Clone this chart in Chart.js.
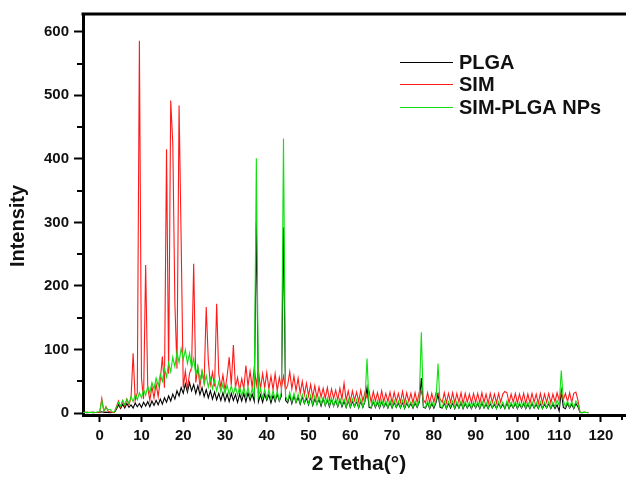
<!DOCTYPE html>
<html>
<head>
<meta charset="utf-8">
<script src="https://cdn.jsdelivr.net/npm/chart.js@4.4.1/dist/chart.umd.min.js"></script>
<style>
  html, body { margin: 0; padding: 0; background: #fff; }
  #wrap { width: 626px; height: 479px; position: relative; }
</style>
</head>
<body>
<div id="wrap"><canvas id="xrd"></canvas></div>
<script>
// 2 theta angles (degrees), one value every 0.5
const angles = [
  -4, -3.5, -3, -2.5, -2, -1.5, -1, -0.5,
  0, 0.5, 1, 1.5, 2, 2.5, 3, 3.5, 4, 4.5,
  5, 5.5, 6, 6.5, 7, 7.5, 8, 8.5, 9, 9.5,
  10, 10.5, 11, 11.5, 12, 12.5, 13, 13.5, 14, 14.5,
  15, 15.5, 16, 16.5, 17, 17.5, 18, 18.5, 19, 19.5,
  20, 20.5, 21, 21.5, 22, 22.5, 23, 23.5, 24, 24.5,
  25, 25.5, 26, 26.5, 27, 27.5, 28, 28.5, 29, 29.5,
  30, 30.5, 31, 31.5, 32, 32.5, 33, 33.5, 34, 34.5,
  35, 35.5, 36, 36.5, 37, 37.5, 38, 38.5, 39, 39.5,
  40, 40.5, 41, 41.5, 42, 42.5, 43, 43.5, 44, 44.5,
  45, 45.5, 46, 46.5, 47, 47.5, 48, 48.5, 49, 49.5,
  50, 50.5, 51, 51.5, 52, 52.5, 53, 53.5, 54, 54.5,
  55, 55.5, 56, 56.5, 57, 57.5, 58, 58.5, 59, 59.5,
  60, 60.5, 61, 61.5, 62, 62.5, 63, 63.5, 64, 64.5,
  65, 65.5, 66, 66.5, 67, 67.5, 68, 68.5, 69, 69.5,
  70, 70.5, 71, 71.5, 72, 72.5, 73, 73.5, 74, 74.5,
  75, 75.5, 76, 76.5, 77, 77.5, 78, 78.5, 79, 79.5,
  80, 80.5, 81, 81.5, 82, 82.5, 83, 83.5, 84, 84.5,
  85, 85.5, 86, 86.5, 87, 87.5, 88, 88.5, 89, 89.5,
  90, 90.5, 91, 91.5, 92, 92.5, 93, 93.5, 94, 94.5,
  95, 95.5, 96, 96.5, 97, 97.5, 98, 98.5, 99, 99.5,
  100, 100.5, 101, 101.5, 102, 102.5, 103, 103.5, 104, 104.5,
  105, 105.5, 106, 106.5, 107, 107.5, 108, 108.5, 109, 109.5,
  110, 110.5, 111, 111.5, 112, 112.5, 113, 113.5, 114, 114.5,
  115, 115.5, 116, 116.5, 117
];

const plga = [
  1, 1, 0.5, 1, 1, 0.5, 1, 1,
  1, 2, 1, 1.5, 1, 0.5, 1, 1, 6, 13,
  7, 14, 8, 15, 9, 13, 8, 16, 10, 15,
  9, 17, 11, 18, 10, 19, 12, 20, 13, 22,
  14, 24, 17, 27, 19, 30, 22, 35, 27, 40,
  31, 46, 33, 48, 35, 45, 31, 43, 29, 40,
  26, 37, 24, 35, 22, 33, 21, 31, 20, 32,
  19, 30, 18, 31, 20, 29, 17, 30, 19, 31,
  18, 32, 20, 30, 19, 300, 18, 29, 17, 30,
  20, 29, 16, 28, 18, 30, 19, 27, 292, 20,
  16, 28, 15, 27, 17, 25, 14, 26, 15, 24,
  13, 25, 12, 23, 14, 22, 11, 23, 12, 21,
  10, 22, 11, 20, 10, 21, 10, 19, 9, 20,
  9, 19, 10, 18, 8, 19, 9, 18, 40, 9,
  8, 18, 9, 17, 8, 18, 9, 16, 8, 17,
  8, 17, 9, 16, 8, 17, 7, 16, 9, 15,
  8, 16, 9, 17, 55, 9, 8, 16, 7, 15,
  8, 16, 30, 9, 8, 16, 7, 15, 8, 16,
  7, 15, 8, 16, 7, 15, 8, 14, 7, 15,
  8, 15, 7, 16, 8, 14, 7, 15, 8, 14,
  7, 15, 8, 14, 7, 16, 7, 14, 8, 15,
  7, 14, 8, 15, 7, 14, 7, 15, 8, 14,
  7, 15, 7, 14, 8, 15, 7, 14, 7, 13,
  3, 35, 9, 7, 15, 8, 14, 7, 15, 10,
  1, 0.5, 1, 1, 0.5
];

const sim = [
  1, 1, 1.5, 1, 1, 1.5, 1, 1,
  1, 23, 2, 10, 3, 2, 1, 1, 10, 19,
  9, 20, 11, 22, 13, 24, 94, 20, 32, 586,
  55, 22, 233, 40, 20, 42, 24, 46, 26, 52,
  89, 40, 415, 62, 492, 424, 172, 70, 484, 272,
  40, 66, 38, 62, 72, 235, 48, 72, 42, 66,
  48, 167, 83, 45, 64, 42, 172, 62, 40, 60,
  36, 58, 88, 44, 107, 40, 56, 35, 54, 38,
  75, 42, 66, 40, 72, 44, 68, 38, 62, 40,
  64, 38, 58, 37, 62, 35, 56, 39, 58, 37,
  44, 65, 38, 58, 35, 55, 31, 50, 29, 47,
  27, 45, 25, 43, 24, 41, 25, 39, 23, 40,
  21, 38, 23, 36, 21, 39, 22, 47, 20, 35,
  18, 35, 20, 33, 18, 36, 19, 33, 24, 34,
  17, 34, 19, 32, 17, 35, 18, 31, 18, 33,
  16, 33, 18, 31, 17, 34, 16, 32, 18, 31,
  16, 32, 17, 33, 34, 21, 16, 32, 16, 31,
  17, 32, 30, 22, 17, 32, 16, 31, 17, 32,
  16, 31, 17, 32, 15, 31, 17, 30, 16, 31,
  17, 31, 16, 32, 17, 30, 15, 31, 17, 30,
  16, 31, 17, 30, 34, 32, 16, 30, 17, 31,
  16, 30, 17, 31, 15, 30, 16, 31, 17, 30,
  15, 31, 16, 30, 17, 31, 16, 30, 18, 32,
  20, 33, 21, 31, 18, 32, 17, 31, 33, 20,
  1, 1, 1.5, 1, 1
];

const simPlga = [
  1, 1.5, 1, 1, 1.5, 1, 1, 2,
  2, 20, 3, 9, 5, 6, 2, 1.5, 9, 17,
  11, 20, 13, 22, 15, 26, 18, 29, 21, 32,
  24, 37, 28, 42, 32, 48, 38, 55, 43, 61,
  50, 70, 57, 79, 65, 88, 73, 96, 80, 102,
  84, 100, 78, 94, 70, 86, 60, 74, 52, 66,
  45, 59, 41, 55, 38, 52, 35, 49, 33, 46,
  31, 44, 29, 43, 30, 42, 28, 41, 27, 40,
  26, 40, 25, 38, 27, 401, 25, 38, 24, 37,
  23, 36, 22, 35, 21, 34, 20, 33, 432, 26,
  19, 33, 18, 31, 17, 30, 16, 29, 16, 28,
  15, 28, 14, 27, 13, 26, 14, 25, 12, 24,
  12, 24, 11, 23, 11, 23, 12, 22, 10, 22,
  10, 22, 11, 21, 9, 22, 10, 20, 86, 11,
  9, 21, 10, 20, 9, 21, 10, 19, 9, 20,
  9, 20, 10, 19, 9, 20, 8, 19, 10, 18,
  9, 19, 10, 20, 127, 10, 9, 19, 8, 18,
  10, 19, 78, 11, 9, 19, 8, 18, 10, 19,
  8, 18, 9, 19, 8, 18, 9, 17, 8, 18,
  9, 18, 8, 19, 9, 17, 8, 18, 9, 17,
  8, 18, 9, 17, 8, 19, 8, 17, 9, 18,
  8, 17, 9, 18, 8, 17, 8, 18, 9, 17,
  8, 18, 8, 17, 9, 18, 8, 17, 10, 20,
  12, 67, 20, 10, 19, 9, 18, 8, 19, 14,
  1.5, 1, 1.5, 1, 1
];

const xTickLabels = [0, 10, 20, 30, 40, 50, 60, 70, 80, 90, 100, 110, 120];
const xMinorTicks = [5, 15, 25, 35, 45, 55, 65, 75, 85, 95, 105, 115, 125];
const yTickLabels = [0, 100, 200, 300, 400, 500, 600];
const yMinorTicks = [50, 150, 250, 350, 450, 550];

const FONT = '"Liberation Sans", Arial, Helvetica, sans-serif';

function pairs(ys) {
  return angles.map((a, i) => ({ x: a, y: ys[i] }));
}

// frame top line, minor ticks, legend and axis titles
const decor = {
  id: 'decor',
  afterDraw(chart) {
    const { ctx, chartArea: a, scales } = chart;
    const x = scales.x, y = scales.y;
    ctx.save();
    ctx.strokeStyle = '#000';
    ctx.lineWidth = 3;
    ctx.beginPath();
    ctx.moveTo(a.left - 1.5, a.top);
    ctx.lineTo(a.right, a.top);
    ctx.stroke();

    ctx.lineWidth = 2;
    xMinorTicks.forEach(v => {
      const px = Math.round(x.getPixelForValue(v));
      ctx.beginPath();
      ctx.moveTo(px, a.bottom);
      ctx.lineTo(px, a.bottom + 5);
      ctx.stroke();
    });
    yMinorTicks.forEach(v => {
      const py = Math.round(y.getPixelForValue(v));
      ctx.beginPath();
      ctx.moveTo(a.left, py);
      ctx.lineTo(a.left - 6, py);
      ctx.stroke();
    });

    // legend
    ctx.font = 'bold 20px ' + FONT;
    ctx.textBaseline = 'middle';
    ctx.textAlign = 'left';
    const rows = [62, 84, 107];
    [0, 1, 2].forEach(i => {
      const ds = chart.data.datasets[i];
      ctx.strokeStyle = ds.borderColor;
      ctx.lineWidth = 1;
      ctx.beginPath();
      ctx.moveTo(400, rows[i] + 0.5);
      ctx.lineTo(453, rows[i] + 0.5);
      ctx.stroke();
      ctx.fillStyle = '#111';
      ctx.fillText(ds.label, 459, rows[i] + 1);
    });

    // axis titles
    ctx.fillStyle = '#111';
    ctx.font = 'bold 21px ' + FONT;
    ctx.textAlign = 'center';
    ctx.fillText('2 Tetha(\u00b0)', 359, 464);
    ctx.translate(18, 226);
    ctx.rotate(-Math.PI / 2);
    ctx.font = 'bold 20px ' + FONT;
    ctx.fillText('Intensity', 0, 0);
    ctx.restore();
  }
};

new Chart(document.getElementById('xrd'), {
  type: 'line',
  data: {
    datasets: [
      { label: 'PLGA', data: pairs(plga), borderColor: '#000000', order: 3 },
      { label: 'SIM', data: pairs(sim), borderColor: '#ff1a1a', order: 2 },
      { label: 'SIM-PLGA NPs', data: pairs(simPlga), borderColor: '#10e010', order: 1 }
    ]
  },
  options: {
    responsive: true,
    maintainAspectRatio: false,
    animation: false,
    layout: { padding: { top: 12, left: 0, right: 0, bottom: 0 } },
    elements: {
      line: { borderWidth: 1.1, tension: 0 },
      point: { radius: 0 }
    },
    plugins: {
      legend: { display: false },
      tooltip: { enabled: false }
    },
    scales: {
      x: {
        type: 'linear',
        min: -4,
        max: 126,
        afterBuildTicks: s => { s.ticks = xTickLabels.map(v => ({ value: v })); },
        afterFit: s => { s.height = 64; },
        ticks: {
          color: '#111',
          font: { family: FONT, size: 15, weight: 'bold' },
          padding: 5,
          maxRotation: 0,
          autoSkip: false
        },
        grid: { drawOnChartArea: false, tickLength: 7, tickWidth: 2, tickColor: '#000' },
        border: { display: true, width: 3, color: '#000' }
      },
      y: {
        min: -3,
        max: 628,
        afterBuildTicks: s => { s.ticks = yTickLabels.map(v => ({ value: v })); },
        afterFit: s => { s.width = 83; },
        ticks: {
          color: '#111',
          font: { family: FONT, size: 15, weight: 'bold' },
          padding: 5
        },
        grid: { drawOnChartArea: false, tickLength: 9, tickWidth: 2, tickColor: '#000' },
        border: { display: true, width: 3, color: '#000' }
      }
    }
  },
  plugins: [decor]
});
</script>
</body>
</html>
